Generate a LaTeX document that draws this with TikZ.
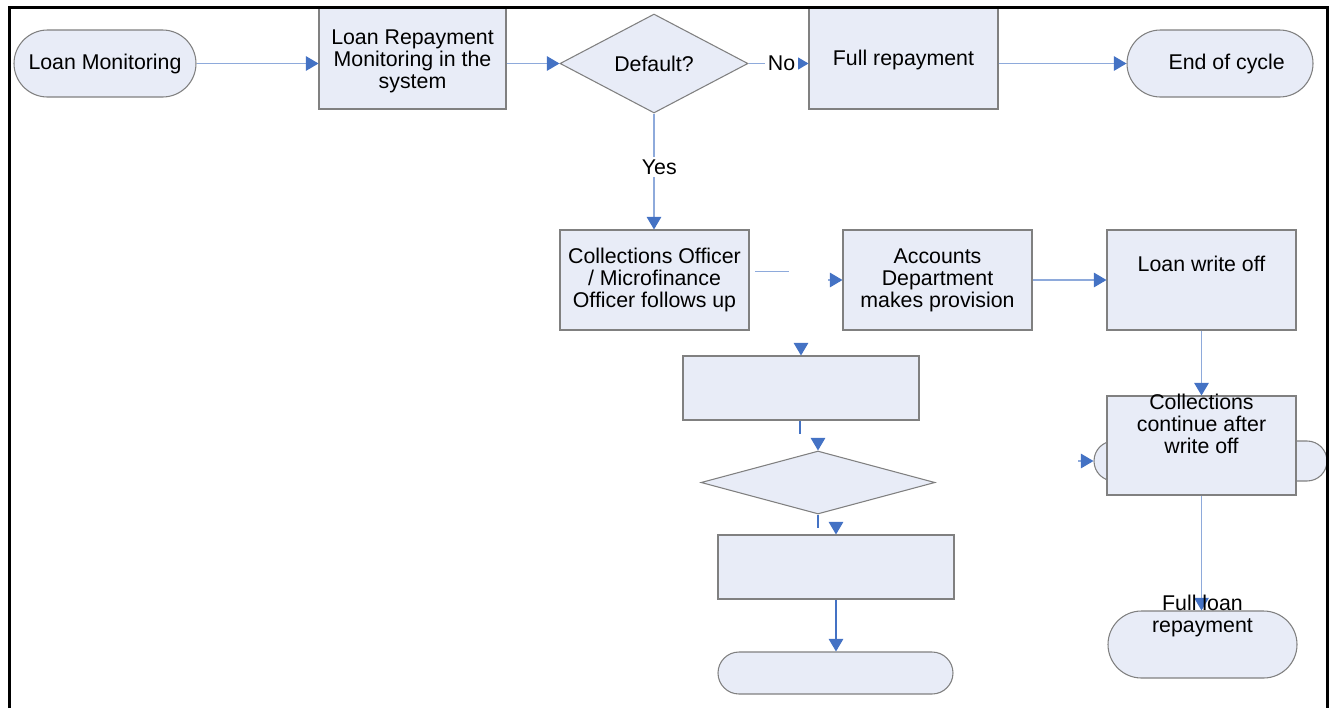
\documentclass[tikz,border=0pt]{standalone}
\usepackage{fontspec}
\setmainfont{Liberation Sans}
\usetikzlibrary{shapes.geometric,shapes.misc,arrows.meta}
\definecolor{boxfill}{HTML}{E8ECF7}
\definecolor{boxline}{HTML}{808080}
\definecolor{linklight}{HTML}{8EAADB}
\definecolor{tipblue}{HTML}{4472C4}

\tikzset{
 base/.style={draw=boxline, fill=boxfill, line width=0.8pt, inner sep=0pt, align=center, font=\fontsize{16}{16.5}\selectfont},
 proc/.style={base, rectangle},
 term/.style={base, rounded rectangle},
 dec/.style={base, diamond},
 txt/.style={align=center, inner sep=0pt, font=\fontsize{16}{16.5}\selectfont},
 lbl/.style={txt, fill=white, inner sep=2pt},
 link/.style={draw=linklight, line width=0.9pt},
 linkdark/.style={draw=tipblue, line width=0.9pt},
 conn/.style={link, -{Triangle[length=9.5pt,width=11pt,color=tipblue]}},
 conndark/.style={linkdark, -{Triangle[length=9.5pt,width=11pt,color=tipblue]}},
 frame/.style={draw=black, line width=2.25pt}
}

\begin{document}
\begin{tikzpicture}[x=0.75pt,y=0.75pt,yscale=-1,xscale=1]
\useasboundingbox (0,0) rectangle (1332,708);

% top row
\node[term, minimum width=136.5pt, minimum height=50.25pt] (lm) at (105,63.5) {Loan Monitoring};
\node[proc, minimum width=140.25pt, minimum height=76.5pt, label={[txt,yshift=-2.5pt]center:Loan Repayment\\Monitoring in the\\system}] (lr) at (412.5,58) {};
\node[dec, minimum width=141pt, minimum height=74.25pt] (def) at (654,63.5) {Default?};
\node[proc, minimum width=141.75pt, minimum height=76.5pt, label={[txt,yshift=-1.5pt]center:Full repayment}] (fr) at (903.5,58) {};
\node[term, minimum width=139.5pt, minimum height=50.25pt, label={[txt,xshift=5pt]center:End of cycle}] (eoc) at (1220,63.5) {};

% middle row
\node[proc, minimum width=141.75pt, minimum height=75pt] (co) at (654.5,280) {Collections Officer\\/ Microfinance\\Officer follows up};
\node[proc, minimum width=141.75pt, minimum height=75pt] (acc) at (937.5,280) {Accounts\\Department\\makes provision};
\node[proc, minimum width=141.75pt, minimum height=75pt, label={[txt,yshift=12pt]center:Loan write off}] (lwo) at (1201.5,280) {};

% right column
\node[term, minimum width=174.75pt, minimum height=30pt] (ccwback) at (1210.5,461) {};
\node[proc, minimum width=141.75pt, minimum height=74.25pt, label={[txt,yshift=16pt]center:Collections\\continue after\\write off}] (ccw) at (1201.5,445.5) {};
\node[term, minimum width=141.75pt, minimum height=50.25pt] (flr) at (1202.5,644.5) {};

% blank column
\node[proc, minimum width=177pt, minimum height=48pt] (b1) at (801,388) {};
\node[dec, minimum width=175.5pt, minimum height=47.25pt] (d2) at (818,482.5) {};
\node[proc, minimum width=177pt, minimum height=48pt] (b2) at (836,567) {};
\node[term, minimum width=176.25pt, minimum height=31.5pt] (t2) at (835.5,673) {};

% loose ends
\coordinate (s1) at (755,271.5);
\coordinate (s2) at (789,271.5);
\coordinate (s3) at (828,280);
\coordinate (s4) at (801,343);
\coordinate (s5) at (800,434);
\coordinate (s6) at (818,438);
\coordinate (s7) at (818,528);
\coordinate (s8) at (836,522);
\coordinate (s9) at (1078,461);

% connectors
\draw[conn] (lm.east) -- (lm.east -| lr.west);
\draw[conn] (def.west -| lr.east) -- (def.west);
\draw[conn] (def.east) -- node[lbl, pos=0.55] {No} (def.east -| fr.west);
\draw[conn] (eoc.west -| fr.east) -- (eoc.west);
\draw[conn] (def.south) -- node[lbl, pos=0.46, xshift=4pt] {Yes} (def.south |- co.north);
\draw[link] (s1) -- (s2);
\draw[conn] (s3) -- (acc.west);
\draw[conn] (acc.east) -- (lwo.west);
\draw[conn] (lwo.south) -- (ccw.north);
\draw[conn] (s9) -- (ccwback.west);
\draw[conn] (ccw.south) -- (ccw.south |- flr.north);
\node[txt] at (1202.5,615.5) {Full loan\\repayment};
\draw[conndark] (s4) -- (b1.north -| s4);
\draw[linkdark] (b1.south -| s5) -- (s5);
\draw[conndark] (s6) -- (d2.north);
\draw[linkdark] (d2.south) -- (s7);
\draw[conndark] (s8) -- (b2.north -| s8);
\draw[conndark] (b2.south -| s8) -- (t2.north -| s8);

% frame
\draw[frame] (9,708) -- (9,7) -- (1327,7) -- (1327,708);
\end{tikzpicture}
\end{document}
